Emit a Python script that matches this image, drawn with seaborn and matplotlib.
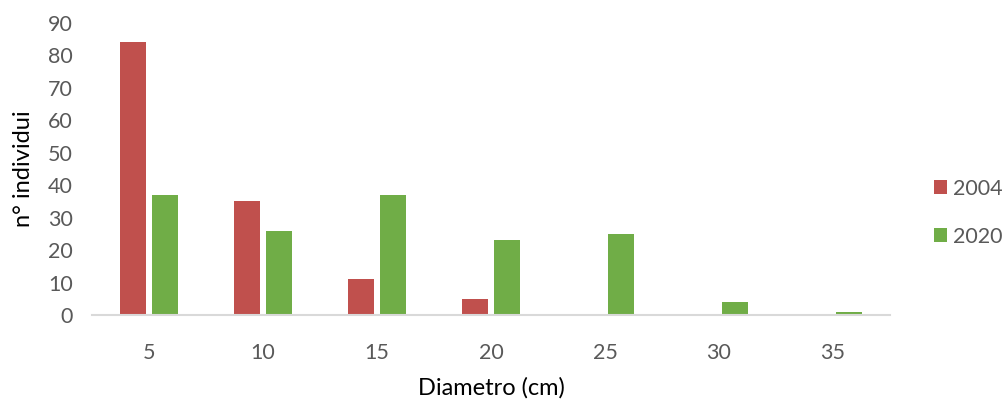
import matplotlib
matplotlib.use("Agg")
import matplotlib.pyplot as plt
import seaborn as sns
import pandas as pd

# Tree counts per diameter class, survey years 2004 and 2020
diametri = [5, 10, 15, 20, 25, 30, 35]
anni = ["2004", "2020"]
n_2004 = [84, 35, 11, 5, 0, 0, 0]
n_2020 = [37, 26, 37, 23, 25, 4, 1]

df = pd.DataFrame({
    "Diametro": [str(d) for d in diametri] * 2,
    "Anno": [anni[0]] * len(diametri) + [anni[1]] * len(diametri),
    "n": n_2004 + n_2020,
})

sns.set_theme(style="white")
plt.rcParams["font.family"] = ["Lato", "DejaVu Sans"]

fig = plt.figure(figsize=(10.03, 3.99), dpi=100)
ax = fig.add_axes([92 / 1003, 84 / 399, 798 / 1003, (315 - 23) / 399])

sns.barplot(
    data=df, x="Diametro", y="n", hue="Anno",
    palette={"2004": "#C0504D", "2020": "#70AD47"},
    saturation=1, width=0.57, gap=0.2, linewidth=0,
    ax=ax, legend=True,
)

ax.set_ylim(0, 90)
ax.set_yticks(range(0, 91, 10))
ax.set_xlim(-0.5, len(diametri) - 0.5)

for s in ["top", "right", "left"]:
    ax.spines[s].set_visible(False)
ax.spines["bottom"].set_color("#D9D9D9")
ax.spines["bottom"].set_linewidth(1.5)

ax.tick_params(axis="both", length=0, labelsize=15.5, colors="#595959")
ax.tick_params(axis="y", pad=14)
ax.tick_params(axis="x", pad=20)
ax.set_xlabel("Diametro (cm)", fontsize=17, color="black", labelpad=10)
ax.set_ylabel("n° individui", fontsize=17, color="black", labelpad=10)

leg = ax.legend(
    loc="center left", bbox_to_anchor=(1.055, 0.35), frameon=False,
    fontsize=15.5, handlelength=0.6, handleheight=0.6, handletextpad=0.3,
    labelspacing=1.3, borderpad=0, borderaxespad=0,
)
for t in leg.get_texts():
    t.set_color("#595959")

fig.savefig("out.png", dpi=100)
